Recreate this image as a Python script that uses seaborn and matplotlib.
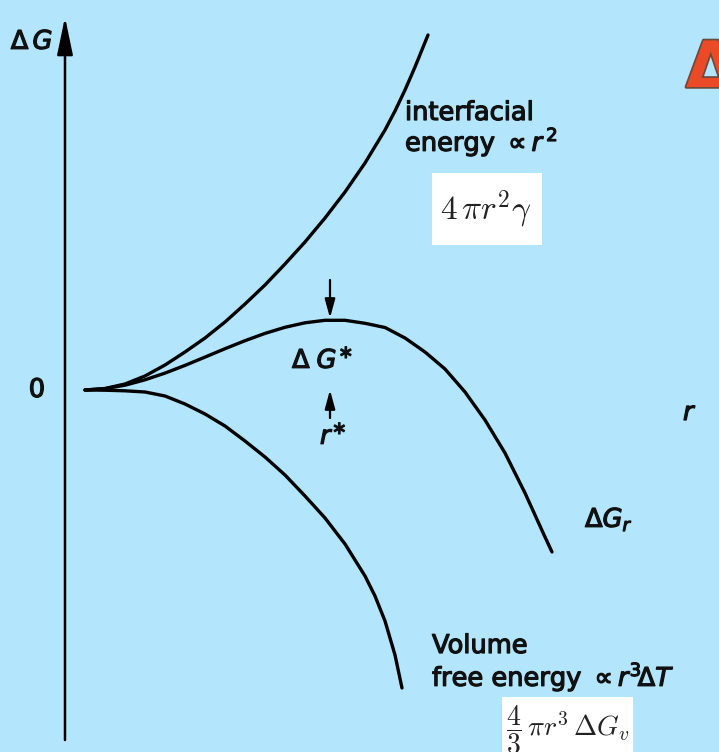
import matplotlib
matplotlib.use("Agg")
import matplotlib.pyplot as plt
import matplotlib.patheffects as pe
from matplotlib.patches import Rectangle
import pandas as pd
import seaborn as sns

# Free energy of a spherical nucleus as a function of its radius r
r_surface = [0, 0.2, 0.4, 0.6, 0.8, 1.0, 1.2, 1.4, 1.6, 1.8, 2.0, 2.2, 2.4, 2.6, 2.8,
             3.0, 3.1, 3.2, 3.3, 3.43]
g_surface = [0, 0.015, 0.06, 0.14, 0.25, 0.38, 0.52, 0.68, 0.86, 1.05, 1.26, 1.48,
             1.72, 1.98, 2.27, 2.60, 2.79, 3.00, 3.23, 3.55]

r_volume = [0, 0.2, 0.4, 0.6, 0.8, 1.0, 1.2, 1.4, 1.6, 1.8, 2.0, 2.2, 2.4, 2.6, 2.8,
            2.9, 3.0, 3.1, 3.17]
g_volume = [0, -0.002, -0.008, -0.02, -0.06, -0.14, -0.24, -0.36, -0.51, -0.67, -0.85,
            -1.06, -1.28, -1.54, -1.86, -2.06, -2.31, -2.65, -2.98]

r_total = [0, 0.2, 0.4, 0.6, 0.8, 1.0, 1.2, 1.4, 1.6, 1.8, 2.0, 2.2, 2.4, 2.6, 2.8,
           3.0, 3.2, 3.4, 3.6, 3.8, 4.0, 4.2, 4.4, 4.6, 4.67]
g_total = [0, 0.013, 0.048, 0.102, 0.169, 0.246, 0.329, 0.413, 0.493, 0.566, 0.627,
           0.672, 0.697, 0.697, 0.667, 0.625, 0.52, 0.38, 0.21, -0.02, -0.30, -0.63,
           -1.03, -1.47, -1.62]

r_star = 2.45
g_star = 0.700

W, H = 719, 752
BG = "#b3e5fc"

sns.set_theme(style="white")
plt.rcParams["font.family"] = ["DejaVu Sans"]

fig = plt.figure(figsize=(W / 100, H / 100), dpi=100, facecolor=BG)
ax = fig.add_axes([0, 0, 1, 1])
ax.set_facecolor(BG)
ax.set_xlim(-0.85, 6.34)
ax.set_ylim(-3.62, 3.90)
ax.axis("off")


def fx(px):
    return px / W


def fy(py):
    return 1 - py / H


curves = pd.concat([
    pd.DataFrame({"r": r_surface, "G": g_surface, "term": "surface"}),
    pd.DataFrame({"r": r_volume, "G": g_volume, "term": "volume"}),
    pd.DataFrame({"r": r_total, "G": g_total, "term": "total"}),
])
sns.lineplot(data=curves, x="r", y="G", units="term", estimator=None,
             color="black", linewidth=2.4, ax=ax, legend=False,
             solid_joinstyle="round", solid_capstyle="round")

# axes with tapered arrow heads
head = "-|>,head_length=1.15,head_width=0.24"
ax.annotate("", xy=(-0.2, 3.73), xytext=(-0.2, -3.5),
            arrowprops=dict(arrowstyle=head, lw=1.8, color="black",
                            mutation_scale=20, shrinkA=0, shrinkB=0))
ax.annotate("", xy=(6.36, 0), xytext=(-0.2, 0),
            arrowprops=dict(arrowstyle=head, lw=1.8, color="black",
                            mutation_scale=20, shrinkA=0, shrinkB=0))

# critical nucleus markers
small = "-|>,head_length=0.8,head_width=0.22"
ax.annotate("", xy=(r_star, g_star + 0.02), xytext=(r_star, g_star + 0.40),
            arrowprops=dict(arrowstyle=small, lw=1.6, color="black",
                            mutation_scale=14, shrinkA=0, shrinkB=0))
ax.annotate("", xy=(r_star, 0.0), xytext=(r_star, -0.28),
            arrowprops=dict(arrowstyle=small, lw=1.6, color="black",
                            mutation_scale=14, shrinkA=0, shrinkB=0))

thick = [pe.withStroke(linewidth=0.9, foreground="#111111")]
txt = dict(color="#111111", fontsize=18.5, math_fontfamily="dejavusans",
           path_effects=thick)

fig.text(fx(32), fy(42), r"$\Delta\,G$", ha="center", va="center", **txt)
fig.text(fx(37), fy(390), "0", ha="center", va="center", **txt)
fig.text(fx(690), fy(413), r"$r$", ha="center", va="center", **txt)

fig.text(fx(405), fy(120), "interfacial", ha="left", va="baseline", **txt)
fig.text(fx(405), fy(151), r"energy $\propto r^{\,2}$", ha="left", va="baseline", **txt)

fig.text(fx(292), fy(368), r"$\Delta\;G^{\ast}$", ha="left", va="baseline", **txt)
fig.text(fx(320), fy(444), r"$r^{\ast}$", ha="left", va="baseline", **txt)

fig.text(fx(585), fy(527), r"$\Delta G_{r}$", ha="left", va="baseline", **txt)

fig.text(fx(432), fy(653), "Volume", ha="left", va="baseline", **txt)
fig.text(fx(432), fy(686), r"free energy $\propto r^{3}\!\Delta T$", ha="left",
         va="baseline", **txt)

# white formula boxes
fig.patches.append(Rectangle((fx(432), fy(245)), (542 - 432) / W, (245 - 173) / H,
                             transform=fig.transFigure, facecolor="white",
                             edgecolor="none", zorder=3))
fig.text(fx(486), fy(210), r"$4\,\pi r^{2}\gamma$", ha="center", va="center",
         fontsize=24, color="#222222", math_fontfamily="cm", zorder=4)

fig.patches.append(Rectangle((fx(502), fy(752)), (633 - 502) / W, (752 - 697) / H,
                             transform=fig.transFigure, facecolor="white",
                             edgecolor="none", zorder=3))
fig.text(fx(568), fy(730), r"$\dfrac{4}{3}\,\pi r^{3}\,\Delta G_{v}$", ha="center",
         va="center", fontsize=20, color="#222222", math_fontfamily="cm", zorder=4)

# red delta at the top right edge
fig.text(fx(686), fy(87), "Δ", ha="left", va="baseline", fontsize=46,
         fontweight="bold", color="#ea4a26",
         path_effects=[pe.withStroke(linewidth=2.5, foreground="#6b4a40")])

fig.savefig("out.png", dpi=100, facecolor=BG)
